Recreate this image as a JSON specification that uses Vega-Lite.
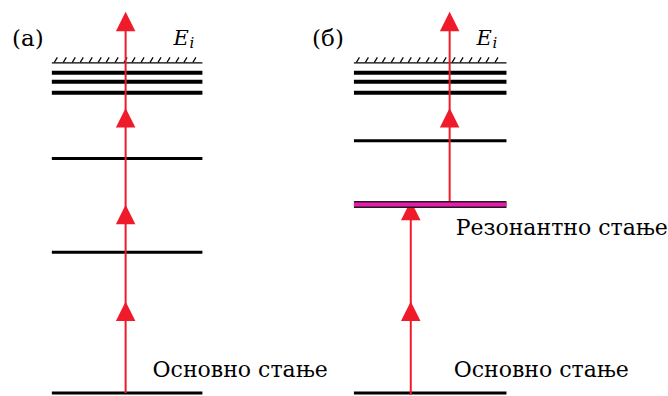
{
  "$schema": "https://vega.github.io/schema/vega-lite/v6.json",
  "width": 668,
  "height": 396,
  "autosize": {"type": "fit", "contains": "padding"},
  "padding": 0,
  "background": "white",
  "config": {"view": {"stroke": null}},
  "datasets": {
    "levels": [
      {"panel": "a", "x1": 52, "x2": 203, "y": 63, "kind": "hatch"},
      {"panel": "a", "x1": 52, "x2": 203, "y": 73, "kind": "band"},
      {"panel": "a", "x1": 52, "x2": 203, "y": 82, "kind": "band"},
      {"panel": "a", "x1": 52, "x2": 203, "y": 93, "kind": "band"},
      {"panel": "a", "x1": 52, "x2": 203, "y": 159, "kind": "level"},
      {"panel": "a", "x1": 52, "x2": 203, "y": 253, "kind": "level"},
      {"panel": "a", "x1": 52, "x2": 203, "y": 394, "kind": "ground"},
      {"panel": "b", "x1": 355, "x2": 508, "y": 63, "kind": "hatch"},
      {"panel": "b", "x1": 355, "x2": 508, "y": 73, "kind": "band"},
      {"panel": "b", "x1": 355, "x2": 508, "y": 82, "kind": "band"},
      {"panel": "b", "x1": 355, "x2": 508, "y": 93, "kind": "band"},
      {"panel": "b", "x1": 355, "x2": 508, "y": 141, "kind": "level"},
      {"panel": "b", "x1": 355, "x2": 508, "y": 205, "kind": "resonant"},
      {"panel": "b", "x1": 355, "x2": 508, "y": 394, "kind": "ground"}
    ],
    "ticks": [
      {"x": 56, "y": 60}, {"x": 65, "y": 60}, {"x": 74, "y": 60}, {"x": 82, "y": 60},
      {"x": 91, "y": 60}, {"x": 100, "y": 60}, {"x": 108, "y": 60}, {"x": 117, "y": 60},
      {"x": 126, "y": 60}, {"x": 134, "y": 60}, {"x": 143, "y": 60}, {"x": 152, "y": 60},
      {"x": 160, "y": 60}, {"x": 169, "y": 60}, {"x": 178, "y": 60}, {"x": 186, "y": 60},
      {"x": 195, "y": 60},
      {"x": 359, "y": 60}, {"x": 368, "y": 60}, {"x": 377, "y": 60}, {"x": 385, "y": 60},
      {"x": 394, "y": 60}, {"x": 403, "y": 60}, {"x": 411, "y": 60}, {"x": 420, "y": 60},
      {"x": 429, "y": 60}, {"x": 437, "y": 60}, {"x": 446, "y": 60}, {"x": 455, "y": 60},
      {"x": 463, "y": 60}, {"x": 472, "y": 60}, {"x": 481, "y": 60}, {"x": 489, "y": 60},
      {"x": 498, "y": 60}
    ],
    "arrows": [
      {"x": 126, "y1": 394, "y2": 16},
      {"x": 451, "y1": 205, "y2": 16},
      {"x": 412, "y1": 396, "y2": 205}
    ],
    "heads": [
      {"x": 126, "y": 21.5}, {"x": 126, "y": 118}, {"x": 126, "y": 215}, {"x": 126, "y": 312},
      {"x": 451, "y": 21.5}, {"x": 451, "y": 118},
      {"x": 412, "y": 211}, {"x": 412, "y": 312}
    ],
    "labels": [
      {"x": 12, "y": 46, "text": "(а)", "kind": "tag"},
      {"x": 313, "y": 46, "text": "(б)", "kind": "tag"},
      {"x": 153, "y": 378, "text": "Основно стање", "kind": "state"},
      {"x": 455, "y": 378, "text": "Основно стање", "kind": "state"},
      {"x": 457, "y": 236, "text": "Резонантно стање", "kind": "state"},
      {"x": 174, "y": 45, "text": "E", "kind": "E"},
      {"x": 478, "y": 45, "text": "E", "kind": "E"},
      {"x": 190, "y": 48, "text": "i", "kind": "i"},
      {"x": 494, "y": 48, "text": "i", "kind": "i"}
    ]
  },
  "encoding": {
    "x": {"field": "x1", "type": "quantitative", "scale": {"domain": [0, 668], "nice": false, "zero": false}, "axis": null},
    "y": {"field": "y", "type": "quantitative", "scale": {"domain": [0, 396], "nice": false, "zero": false, "reverse": true}, "axis": null}
  },
  "layer": [
    {
      "data": {"name": "levels"},
      "transform": [{"filter": "datum.kind === 'band'"}],
      "mark": {"type": "rule", "color": "black", "strokeWidth": 4},
      "encoding": {"x2": {"field": "x2"}}
    },
    {
      "data": {"name": "levels"},
      "transform": [{"filter": "datum.kind === 'level' || datum.kind === 'ground'"}],
      "mark": {"type": "rule", "color": "black", "strokeWidth": 3},
      "encoding": {"x2": {"field": "x2"}}
    },
    {
      "data": {"name": "levels"},
      "transform": [{"filter": "datum.kind === 'hatch'"}],
      "mark": {"type": "rule", "color": "black", "strokeWidth": 1.3},
      "encoding": {"x2": {"field": "x2"}}
    },
    {
      "data": {"name": "ticks"},
      "mark": {"type": "point", "shape": "M-0.6,1L0.6,-1", "size": 25, "filled": false, "stroke": "black", "strokeWidth": 1.2, "opacity": 1},
      "encoding": {"x": {"field": "x", "type": "quantitative"}}
    },
    {
      "data": {"name": "arrows"},
      "mark": {"type": "rule", "color": "#ef1b2b", "strokeWidth": 2},
      "encoding": {"x": {"field": "x", "type": "quantitative"}, "y": {"field": "y1", "type": "quantitative"}, "y2": {"field": "y2"}}
    },
    {
      "data": {"name": "heads"},
      "mark": {"type": "point", "shape": "M0,-1L1,1L-1,1Z", "size": 380, "filled": true, "color": "#ef1b2b", "opacity": 1, "strokeWidth": 0},
      "encoding": {"x": {"field": "x", "type": "quantitative"}}
    },
    {
      "data": {"name": "levels"},
      "transform": [{"filter": "datum.kind === 'resonant'"}],
      "mark": {"type": "rule", "color": "#231a20", "strokeWidth": 7},
      "encoding": {"x2": {"field": "x2"}}
    },
    {
      "data": {"name": "levels"},
      "transform": [{"filter": "datum.kind === 'resonant'"}],
      "mark": {"type": "rule", "color": "#e81cab", "strokeWidth": 4},
      "encoding": {"x": {"field": "x1", "type": "quantitative"}, "x2": {"field": "x2"}}
    },
    {
      "data": {"name": "labels"},
      "transform": [{"filter": "datum.kind === 'tag'"}],
      "mark": {"type": "text", "font": "DejaVu Serif", "fontSize": 23, "align": "left", "baseline": "alphabetic", "color": "black"},
      "encoding": {"x": {"field": "x", "type": "quantitative"}, "text": {"field": "text"}}
    },
    {
      "data": {"name": "labels"},
      "transform": [{"filter": "datum.kind === 'state'"}],
      "mark": {"type": "text", "font": "DejaVu Serif", "fontSize": 22, "align": "left", "baseline": "alphabetic", "color": "black"},
      "encoding": {"x": {"field": "x", "type": "quantitative"}, "text": {"field": "text"}}
    },
    {
      "data": {"name": "labels"},
      "transform": [{"filter": "datum.kind === 'E'"}],
      "mark": {"type": "text", "font": "DejaVu Serif", "fontStyle": "italic", "fontSize": 21, "align": "left", "baseline": "alphabetic", "color": "black"},
      "encoding": {"x": {"field": "x", "type": "quantitative"}, "text": {"field": "text"}}
    },
    {
      "data": {"name": "labels"},
      "transform": [{"filter": "datum.kind === 'i'"}],
      "mark": {"type": "text", "font": "DejaVu Serif", "fontStyle": "italic", "fontSize": 15, "align": "left", "baseline": "alphabetic", "color": "black"},
      "encoding": {"x": {"field": "x", "type": "quantitative"}, "text": {"field": "text"}}
    }
  ]
}
